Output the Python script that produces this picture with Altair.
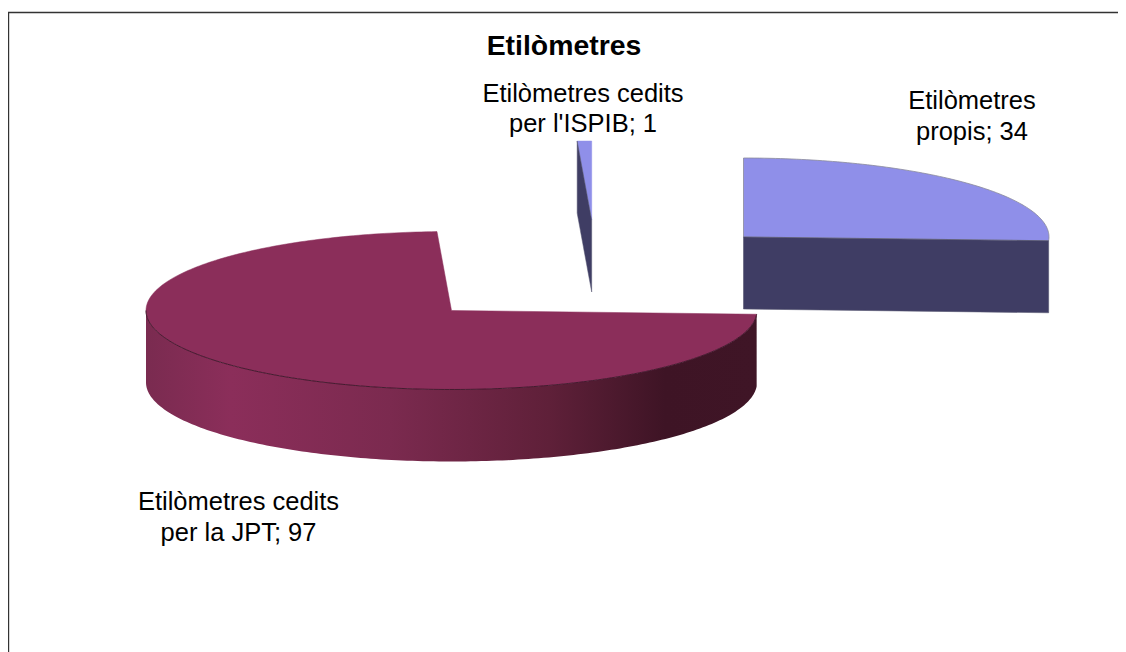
import math
import altair as alt
import pandas as pd

# Values
title = "Etilòmetres"
names = ["Etilòmetres propis", "Etilòmetres cedits per la JPT", "Etilòmetres cedits per l'ISPIB"]
values = [34, 97, 1]
label_line1 = ["Etilòmetres", "Etilòmetres cedits", "Etilòmetres cedits"]
label_line2 = ["propis; 34", "per la JPT; 97", "per l'ISPIB; 1"]

# Pie layout (page space)
RX, RY, DEPTH = 305.5, 79, 72
centres = [(743.5, 237), (451.5, 310.5), (591.7, 220)]
label_pos = [(972, 109, 140), (238.5, 510, 541), (583, 102, 132)]
top_colours = ["#8f8fe9", "#8b2e5a", "#8f8fe9"]
wall_colour = "#3f3d64"
jpt_gradient = alt.Gradient(
    gradient="linear", x1=0, x2=1, y1=0, y2=0,
    stops=[
        alt.GradientStop(offset=0, color="#7a2b50"),
        alt.GradientStop(offset=0.14, color="#8b2e5a"),
        alt.GradientStop(offset=0.40, color="#7b2a4f"),
        alt.GradientStop(offset=0.66, color="#5f2039"),
        alt.GradientStop(offset=0.85, color="#3e1425"),
        alt.GradientStop(offset=1, color="#3f1526"),
    ],
)

W, H = 1110, 644
xs = alt.Scale(domain=[8, 8 + W], range=[0, W], nice=False, zero=False)
ys = alt.Scale(domain=[8, 8 + H], range=[0, H], nice=False, zero=False)


def rim(c, a, dy=0):
    r = math.radians(a)
    return (c[0] + RX * math.sin(r), c[1] - RY * math.cos(r) + dy)


def arc(c, a0, a1, dy=0):
    n = max(2, int(abs(a1 - a0)) + 1)
    return [rim(c, a0 + (a1 - a0) * i / n, dy) for i in range(n + 1)]


def layer_poly(points, **mark):
    df = pd.DataFrame(points, columns=["x", "y"]).reset_index()
    return alt.Chart(df).mark_line(**mark).encode(
        x=alt.X("x:Q", scale=xs, axis=None),
        y=alt.Y("y:Q", scale=ys, axis=None),
        order="index:Q",
    )


total = sum(values)
a = 0.0
spans = []
for v in values:
    spans.append((a, a + 360 * v / total))
    a += 360 * v / total

layers = []

# Frame (open at right and bottom: it runs off the picture)
layers.append(layer_poly([(8.5, 652), (8.5, 12.5), (1118, 12.5)], stroke="#333333", strokeWidth=1.4, fill="transparent"))

# Slice 1: own etilometers
c = centres[0]; s0, s1 = spans[0]
pts = [(c[0], c[1])] + arc(c, s0, s1)
rp = rim(c, s1)
layers.append(layer_poly(pts + [pts[0]], fill=top_colours[0], stroke="#8a8a9a", strokeWidth=0.8))
wall = [(c[0], c[1]), rp, (rp[0], rp[1] + DEPTH), (c[0], c[1] + DEPTH), (c[0], c[1])]
layers.append(layer_poly(wall, fill=wall_colour, stroke="#555570", strokeWidth=0.6))

# Slice 2: JPT
c = centres[1]; s0, s1 = spans[1]
side = arc(c, s0, 270)
side_bottom = arc(c, 270, s0, DEPTH)
layers.append(layer_poly(side + side_bottom + [side[0]], fill=jpt_gradient, strokeWidth=0, stroke="transparent"))
pts = [(c[0], c[1])] + arc(c, s0, s1)
layers.append(layer_poly(pts + [pts[0]], fill=top_colours[1], stroke="#8b2e5a", strokeWidth=0.5))
layers.append(layer_poly(side, stroke="#2f1020", strokeWidth=0.8, fill="transparent"))

# Slice 3: ISPIB
c = centres[2]; s0, s1 = spans[2]
p0 = rim(c, s0)
p1 = rim(c, s1)
layers.append(layer_poly([(c[0], c[1]), p0, p1, (c[0], c[1])], fill=top_colours[2], stroke="#8f8fe9", strokeWidth=0.5))
layers.append(layer_poly([(c[0], c[1]), p0, (p0[0], p0[1] + DEPTH), (c[0], c[1] + DEPTH), (c[0], c[1])],
                         fill=wall_colour, stroke="#555570", strokeWidth=0.5))

# Texts
rows = []
for (x, y1, y2), l1, l2 in zip(label_pos, label_line1, label_line2):
    rows.append({"x": x, "y": y1, "t": l1})
    rows.append({"x": x, "y": y2, "t": l2})
layers.append(
    alt.Chart(pd.DataFrame(rows)).mark_text(
        font="Liberation Sans", fontSize=25.5, color="#000000", align="center", baseline="alphabetic"
    ).encode(
        x=alt.X("x:Q", scale=xs, axis=None),
        y=alt.Y("y:Q", scale=ys, axis=None),
        text="t:N",
    )
)
layers.append(
    alt.Chart(pd.DataFrame({"x": [564], "y": [55], "t": [title]})).mark_text(
        font="Liberation Sans", fontSize=28.4, fontWeight="bold", color="#000000", align="center", baseline="alphabetic"
    ).encode(
        x=alt.X("x:Q", scale=xs, axis=None),
        y=alt.Y("y:Q", scale=ys, axis=None),
        text="t:N",
    )
)

chart = (
    alt.layer(*layers)
    .resolve_scale(x="shared", y="shared")
    .properties(width=W, height=H, padding=0, autosize=alt.AutoSizeParams(type="none"), background="white")
    .configure_view(stroke=None)
)
chart.save("out.html", embed_options={"renderer": "svg", "actions": False})
